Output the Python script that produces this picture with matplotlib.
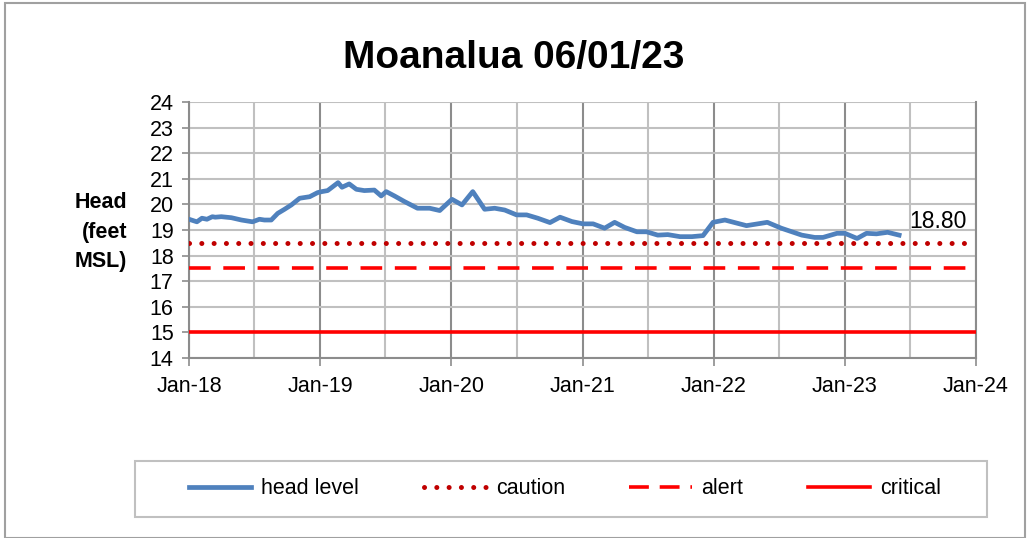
import matplotlib
matplotlib.use("agg")
import matplotlib.pyplot as plt
import matplotlib.dates as mdates
from matplotlib.patches import Rectangle
from matplotlib.lines import Line2D
import pandas as pd

# head level readings (feet MSL)
dates = ["2018-01-01", "2018-01-23", "2018-02-06", "2018-02-20", "2018-03-07", "2018-03-15",
         "2018-04-01", "2018-04-29", "2018-05-27", "2018-06-27", "2018-07-16", "2018-07-30",
         "2018-08-18", "2018-09-05", "2018-09-24", "2018-10-13", "2018-11-05", "2018-12-03",
         "2018-12-25", "2019-01-06", "2019-01-22", "2019-02-20", "2019-03-03", "2019-03-23",
         "2019-04-12", "2019-05-04", "2019-06-01", "2019-06-20", "2019-07-04", "2019-07-27",
         "2019-08-24", "2019-09-29", "2019-11-02", "2019-11-30", "2020-01-03", "2020-01-31",
         "2020-03-01", "2020-04-03", "2020-05-01", "2020-05-29", "2020-07-01", "2020-07-29",
         "2020-08-29", "2020-10-02", "2020-10-30", "2020-12-02", "2021-01-02", "2021-01-30",
         "2021-03-03", "2021-03-31", "2021-04-28", "2021-06-01", "2021-06-28", "2021-07-29",
         "2021-08-26", "2021-09-29", "2021-11-01", "2021-12-02", "2021-12-30", "2022-02-01",
         "2022-04-02", "2022-05-30", "2022-07-08", "2022-09-03", "2022-10-09", "2022-11-01",
         "2022-12-10", "2023-01-01", "2023-02-04", "2023-03-02", "2023-03-30", "2023-04-30",
         "2023-06-01"]
head = [19.42, 19.32, 19.46, 19.42, 19.52, 19.50,
        19.52, 19.48, 19.39, 19.32, 19.42, 19.39,
        19.39, 19.65, 19.81, 19.98, 20.24, 20.30,
        20.46, 20.50, 20.54, 20.85, 20.67, 20.80,
        20.59, 20.54, 20.56, 20.33, 20.50, 20.33,
        20.11, 19.85, 19.85, 19.76, 20.20, 19.98,
        20.50, 19.81, 19.85, 19.78, 19.59, 19.59,
        19.46, 19.29, 19.50, 19.33, 19.24, 19.24,
        19.07, 19.30, 19.10, 18.93, 18.93, 18.80,
        18.82, 18.74, 18.74, 18.78, 19.30, 19.39,
        19.17, 19.30, 19.07, 18.80, 18.71, 18.71,
        18.87, 18.87, 18.67, 18.87, 18.85, 18.91,
        18.80]
caution = 18.5
alert = 17.5
critical = 15.0
title = "Moanalua 06/01/23"
last_label = "18.80"

dates = pd.to_datetime(dates)
x0, x1 = pd.Timestamp("2018-01-01"), pd.Timestamp("2024-01-01")

plt.rcParams['font.family'] = ['Liberation Sans', 'DejaVu Sans']

fig = plt.figure(figsize=(10.3, 5.38), dpi=100)
fig.patches.append(Rectangle((0.005, 0.0), 0.99, 0.994, transform=fig.transFigure,
                             fill=False, edgecolor='#a0a0a0', linewidth=1.5))
# legend box
fig.patches.append(Rectangle((135/1030, 1-517/538), 852/1030, 56/538, transform=fig.transFigure,
                             fill=False, edgecolor='#c0c0c0', linewidth=1.5))
ax = fig.add_axes([189/1030, 1-358/538, 787/1030, 256/538])

ax.plot([x0, x1], [critical, critical], color='#ff0000', lw=2.6, zorder=3)
ax.plot([x0, x1], [alert, alert], color='#ff0000', lw=2.6, linestyle=(0, (6, 3.5)), zorder=3)
ax.plot([x0, x1], [caution, caution], color='#c00000', lw=3.6,
        linestyle=(0, (0.01, 2.45)), dash_capstyle='round', zorder=3)
ax.plot(dates, head, color='#4f81bd', lw=3.4, solid_joinstyle='round', zorder=4)
ax.text(dates[-1] + pd.Timedelta(days=28), head[-1] + 0.1, last_label,
        fontsize=16.5, va='bottom', ha='left')

ax.set_xlim(x0, x1)
ax.set_ylim(14, 24)
ax.set_yticks(range(14, 25))
ax.xaxis.set_major_locator(mdates.YearLocator())
ax.xaxis.set_minor_locator(mdates.MonthLocator(bymonth=7))
ax.xaxis.set_major_formatter(mdates.DateFormatter('%b-%y'))
ax.grid(True, which='major', axis='x', color='#8c8c8c', lw=1.5)
ax.grid(True, which='minor', axis='x', color='#c0c0c0', lw=1.5)
ax.grid(True, which='major', axis='y', color='#c0c0c0', lw=1.5)
ax.set_axisbelow(True)
ax.tick_params(axis='x', which='major', length=6, width=1.2, color='#8c8c8c',
               labelsize=15.5, pad=7)
ax.tick_params(axis='x', which='minor', length=0)
ax.tick_params(axis='y', length=5, width=1.2, color='#8c8c8c', labelsize=15.5, pad=6)
ax.spines['top'].set_visible(False)
for s in ['left', 'bottom', 'right']:
    ax.spines[s].set_color('#8c8c8c')
    ax.spines[s].set_linewidth(1.5)

fig.text(514/1030, 1-58/538, title, fontsize=28, fontweight='bold', ha='center', va='center')
fig.text(127/1030, 1-232/538, "Head\n(feet\nMSL)", fontsize=15.5, fontweight='bold',
         ha='right', va='center', linespacing=1.55)

handles = [Line2D([], [], color='#4f81bd', lw=3.4),
           Line2D([], [], color='#c00000', lw=3.6, linestyle=(0, (0.01, 2.45)),
                  dash_capstyle='round'),
           Line2D([], [], color='#ff0000', lw=2.6, linestyle=(0, (5.5, 3.0))),
           Line2D([], [], color='#ff0000', lw=2.6)]
leg = fig.legend(handles, ['head level', 'caution', 'alert', 'critical'],
                 loc='center', bbox_to_anchor=(565/1030, 1-489/538), ncol=4,
                 fontsize=15.5, frameon=False, handlelength=2.9,
                 handletextpad=0.45, columnspacing=3.0)

fig.savefig('out.png', dpi=100)
